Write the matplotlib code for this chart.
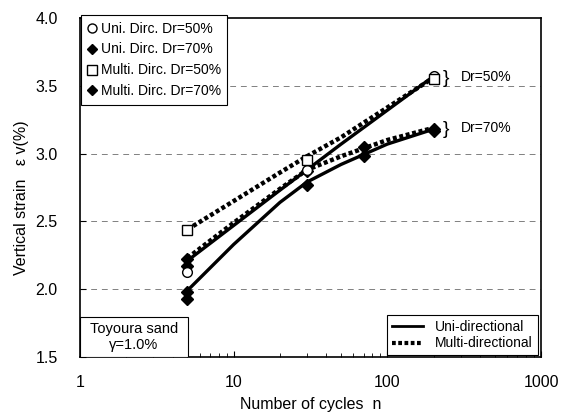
import numpy as np
import matplotlib
matplotlib.use('Agg')
import matplotlib.pyplot as plt
import matplotlib.patches as mpatches
from matplotlib.lines import Line2D

# ── Measured points ──────────────────────────────────────────────────────────
UNI50_N = [5, 30, 200]
UNI50_V = [2.13, 2.88, 3.57]
UNI70_N = [5, 5, 30, 70, 200]
UNI70_V = [1.98, 1.93, 2.77, 2.98, 3.17]
MULTI50_N = [5, 30, 200]
MULTI50_V = [2.44, 2.95, 3.55]
MULTI70_N = [5, 5, 30, 70, 200]
MULTI70_V = [2.22, 2.17, 2.87, 3.05, 3.18]

# ── Trend lines ──────────────────────────────────────────────────────────────
FIT_N = [5, 10, 20, 30, 50, 100, 200]
FIT_UNI50 = [2.21, 2.47, 2.73, 2.88, 3.07, 3.32, 3.57]
FIT_UNI70 = [1.99, 2.33, 2.64, 2.79, 2.92, 3.07, 3.18]
FIT_MULTI50 = [2.44, 2.65, 2.86, 2.98, 3.12, 3.34, 3.56]
FIT_MULTI70 = [2.23, 2.49, 2.74, 2.88, 2.98, 3.10, 3.19]

X_TICKS = [1, 10, 100, 1000]
Y_TICKS = [1.5, 2.0, 2.5, 3.0, 3.5, 4.0]

DOTTED = (0, (0.9, 0.6))

plt.rcParams['font.family'] = ['Liberation Sans', 'DejaVu Sans']

fig = plt.figure(figsize=(5.65, 4.15), dpi=100)
ax = fig.add_axes([0.1416, 0.1398, 0.816, 0.8169])

# trend lines
ax.plot(FIT_N, FIT_UNI50, '-', color='black', lw=2.4, zorder=2)
ax.plot(FIT_N, FIT_UNI70, '-', color='black', lw=2.4, zorder=2)
ax.plot(FIT_N, FIT_MULTI50, ls=DOTTED, color='black', lw=3.2, zorder=2)
ax.plot(FIT_N, FIT_MULTI70, ls=DOTTED, color='black', lw=3.2, zorder=2)

# markers
ax.plot(UNI70_N, UNI70_V, 'D', ms=6, color='black', ls='none', zorder=3)
ax.plot(MULTI70_N, MULTI70_V, 'D', ms=6, color='black', ls='none', zorder=3)
ax.plot(UNI50_N, UNI50_V, 'o', ms=7, mfc='white', mec='black', mew=1.0,
        ls='none', zorder=4)
ax.plot(MULTI50_N, MULTI50_V, 's', ms=7, mfc='white', mec='black', mew=1.0,
        ls='none', zorder=4)

ax.set_xscale('log')
ax.set_xlim(1, 1000)
ax.set_ylim(1.5, 4.0)
ax.set_xticks(X_TICKS)
ax.set_xticklabels([str(t) for t in X_TICKS])
ax.set_yticks(Y_TICKS)
ax.set_yticklabels([f'{t:.1f}' for t in Y_TICKS])
ax.tick_params(axis='both', which='major', direction='in', length=4,
               labelsize=11.5)
ax.tick_params(axis='x', pad=13)
ax.tick_params(axis='y', pad=16)
ax.tick_params(axis='x', which='minor', direction='in', length=3)
for g in Y_TICKS[1:-1]:
    ax.axhline(g, color='gray', lw=0.7, ls=(0, (6, 5)), zorder=1)
for s in ax.spines.values():
    s.set_linewidth(1.2)

ax.set_xlabel('Number of cycles  n', fontsize=11.5, labelpad=5)
ax.set_ylabel('Vertical strain   ε v(%)', fontsize=11.5)
ax.yaxis.set_label_coords(-0.11, 0.47)

# top-left legend
h1 = [
    Line2D([0], [0], marker='o', ls='none', mfc='white', mec='black', ms=6.5),
    Line2D([0], [0], marker='D', ls='none', color='black', ms=5.5),
    Line2D([0], [0], marker='s', ls='none', mfc='white', mec='black', ms=6.5),
    Line2D([0], [0], marker='D', ls='none', color='black', ms=5.5),
]
lab1 = ['Uni. Dirc. Dr=50%', 'Uni. Dirc. Dr=70%',
        'Multi. Dirc. Dr=50%', 'Multi. Dirc. Dr=70%']
leg1 = ax.legend(h1, lab1, loc='upper left', bbox_to_anchor=(0.003, 1.008),
                 fontsize=10, frameon=True, fancybox=False, edgecolor='black',
                 framealpha=1, handlelength=0.6, handletextpad=0.35,
                 labelspacing=0.5, borderpad=0.45, borderaxespad=0)
leg1.get_frame().set_linewidth(0.8)
ax.add_artist(leg1)

# bottom-right legend
h2 = [Line2D([0], [0], color='black', lw=2.0, ls='-'),
      Line2D([0], [0], color='black', lw=3.0, ls=DOTTED)]
leg2 = ax.legend(h2, ['Uni-directional', 'Multi-directional'],
                 loc='lower right', bbox_to_anchor=(0.993, 0.005),
                 fontsize=10, frameon=True, fancybox=False, edgecolor='black',
                 framealpha=1, handlelength=2.2, handletextpad=0.9,
                 labelspacing=0.2, borderpad=0.35, borderaxespad=0)
leg2.get_frame().set_linewidth(0.8)

# soil note
ax.add_patch(mpatches.Rectangle((0, 0), 0.234, 0.118, transform=ax.transAxes,
                                fc='white', ec='black', lw=0.8, zorder=5))
ax.text(0.117, 0.059, 'Toyoura sand\nγ=1.0%', transform=ax.transAxes,
        ha='center', va='center', fontsize=10.5, linespacing=1.25, zorder=6)

# Dr annotations
for v, lab in [(3.555, 'Dr=50%'), (3.175, 'Dr=70%')]:
    ax.text(228, v, '}', fontsize=14, ha='left', va='center')
    ax.text(300, v + 0.01, lab, fontsize=10, ha='left', va='center')

fig.savefig('out.png', dpi=100)
